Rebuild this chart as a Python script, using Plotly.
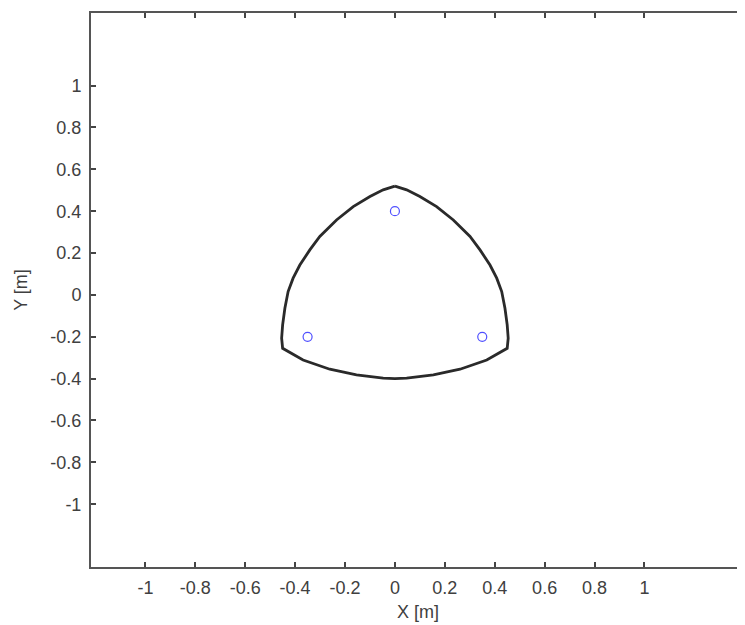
import plotly.graph_objects as go

# Boundary of the closed curve
curve_x = [0.0, -0.047, -0.100, -0.167, -0.234, -0.301, -0.341, -0.381, -0.408, -0.428,
           -0.441, -0.450, -0.454, -0.450,
           -0.368, -0.261, -0.154, -0.047, 0.0, 0.047, 0.154, 0.261, 0.368,
           0.450, 0.454, 0.450, 0.441, 0.428, 0.408, 0.381, 0.341, 0.301, 0.234,
           0.167, 0.100, 0.047, 0.0]
curve_y = [0.52, 0.502, 0.470, 0.422, 0.358, 0.279, 0.215, 0.143, 0.080, 0.016,
           -0.064, -0.143, -0.207, -0.255,
           -0.311, -0.355, -0.382, -0.398, -0.400, -0.398, -0.382, -0.355, -0.311,
           -0.255, -0.207, -0.143, -0.064, 0.016, 0.080, 0.143, 0.215, 0.279, 0.358,
           0.422, 0.470, 0.502, 0.52]

# Circle markers
pts_x = [0.0, -0.35, 0.35]
pts_y = [0.40, -0.20, -0.20]

tick_vals = [-1, -0.8, -0.6, -0.4, -0.2, 0, 0.2, 0.4, 0.6, 0.8, 1]
tick_text = ["-1", "-0.8", "-0.6", "-0.4", "-0.2", "0", "0.2", "0.4", "0.6", "0.8", "1"]

fig = go.Figure()
fig.add_trace(go.Scatter(x=curve_x, y=curve_y, mode="lines",
                         line=dict(color="#2a2a2a", width=2.8), hoverinfo="skip"))
fig.add_trace(go.Scatter(x=pts_x, y=pts_y, mode="markers",
                         marker=dict(symbol="circle-open", size=9,
                                     line=dict(color="#5050ff", width=1.2),
                                     color="#5050ff")))

font = dict(family="Liberation Sans, Arial, sans-serif", size=18, color="#404040")
fig.update_layout(
    width=737, height=617,
    margin=dict(l=83, r=0, t=5, b=58),
    paper_bgcolor="white", plot_bgcolor="white",
    showlegend=False,
    font=font,
    xaxis=dict(range=[-1.218, 1.403], tickvals=tick_vals, ticktext=tick_text,
               ticks="inside", ticklen=5, tickwidth=2, tickcolor="#444",
               showline=True, linecolor="#555", linewidth=2, mirror="ticks",
               showgrid=False, zeroline=False, ticklabelstandoff=3,
               title=dict(text="X [m]", standoff=9, font=font)),
    yaxis=dict(range=[-1.30, 1.347], tickvals=tick_vals, ticktext=tick_text,
               ticks="inside", ticklen=5, tickwidth=2, tickcolor="#444",
               showline=True, linecolor="#555", linewidth=2, mirror=False,
               showgrid=False, zeroline=False, ticklabelstandoff=4,
               title=dict(text="Y [m]", standoff=18, font=font)),
)
fig.write_html("out.html")
